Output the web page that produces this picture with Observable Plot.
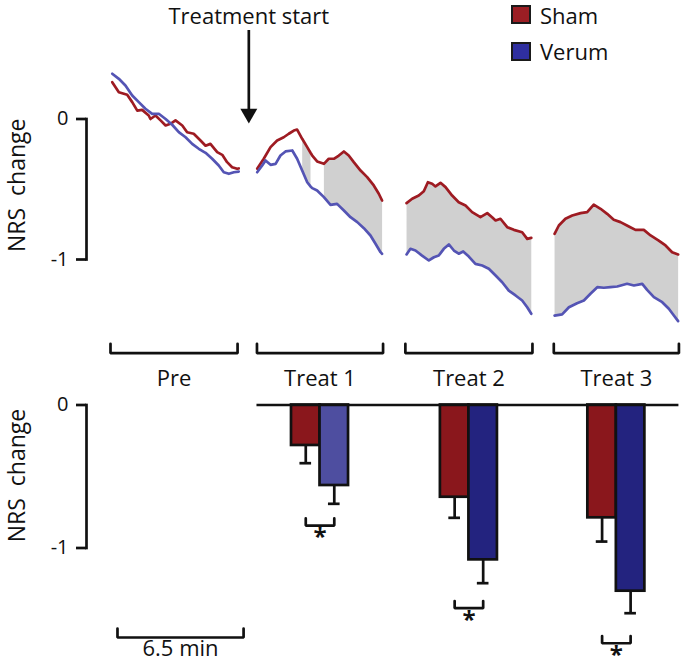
<!DOCTYPE html>
<html><head><meta charset="utf-8">
<script src="https://cdn.jsdelivr.net/npm/d3@7"></script>
<script src="https://cdn.jsdelivr.net/npm/@observablehq/plot@0.6"></script>
<style>
body{margin:0;background:#fff;font-family:"Open Sans",sans-serif;color:#111;}
#wrap{position:relative;width:685px;height:663px;overflow:hidden;background:#fff}
#wrap svg{display:block}
.sw{position:absolute;left:511px;width:16px;height:15px;border:2.5px solid #1a1a1a;}
.lt{position:absolute;left:540px;font-size:22px;line-height:30px;font-family:"Open Sans";color:#111;}
</style></head>
<body><div id="wrap"><div id="topPanel"></div><div id="bottomPanel"></div>
<div class="sw" style="top:5px;background:#9b1e24"></div><div class="lt" style="top:0px">Sham</div>
<div class="sw" style="top:42px;background:#2f2f9f"></div><div class="lt" style="top:36px">Verum</div>
</div>
<script>
// ---------- data ----------
const segNames = ["Pre", "Treat 1", "Treat 2", "Treat 3"];
const segStart = [0, 7.55, 15.2, 22.85];   // minutes
const segEnd   = [6.55, 14.05, 21.75, 29.3];
const treatmentStart = 7.13;

// time-course, [minute, NRS change]
const shamPre = [[0.09,0.262],[0.43,0.191],[0.86,0.172],[1.12,0.12],[1.38,0.06],[1.63,0.065],[1.97,0.025],[2.06,0.0],[2.32,0.025],[2.58,-0.01],[2.84,-0.046],[3.09,-0.034],[3.35,-0.01],[3.70,-0.046],[3.95,-0.094],[4.29,-0.105],[4.64,-0.153],[4.90,-0.19],[5.15,-0.177],[5.50,-0.236],[5.76,-0.255],[6.01,-0.307],[6.27,-0.343],[6.53,-0.354],[6.61,-0.352]];
const verumPre = [[0.09,0.322],[0.43,0.286],[0.77,0.238],[1.12,0.167],[1.46,0.12],[1.80,0.073],[2.15,0.037],[2.49,0.037],[2.84,0.0],[3.18,-0.041],[3.52,-0.094],[3.87,-0.13],[4.21,-0.177],[4.55,-0.212],[4.90,-0.241],[5.24,-0.283],[5.58,-0.331],[5.84,-0.379],[6.10,-0.39],[6.36,-0.379],[6.61,-0.374]];
const shamT1 = [[7.56,-0.354],[7.90,-0.283],[8.25,-0.20],[8.59,-0.153],[8.93,-0.13],[9.19,-0.105],[9.45,-0.082],[9.62,-0.075],[9.88,-0.141],[10.14,-0.20],[10.31,-0.24],[10.40,-0.26],[10.65,-0.302],[11.0,-0.319],[11.25,-0.283],[11.51,-0.283],[11.77,-0.26],[12.03,-0.231],[12.28,-0.26],[12.54,-0.307],[12.89,-0.367],[13.23,-0.414],[13.57,-0.473],[13.83,-0.532],[14.0,-0.58]];
const verumT1 = [[7.56,-0.379],[7.82,-0.331],[7.99,-0.295],[8.25,-0.326],[8.51,-0.319],[8.76,-0.26],[9.02,-0.231],[9.37,-0.224],[9.62,-0.283],[9.88,-0.367],[10.14,-0.45],[10.31,-0.48],[10.40,-0.492],[10.65,-0.509],[11.0,-0.556],[11.34,-0.611],[11.68,-0.604],[12.03,-0.651],[12.37,-0.699],[12.72,-0.734],[13.06,-0.777],[13.40,-0.829],[13.66,-0.888],[13.92,-0.948],[14.0,-0.96]];
const shamT2 = [[15.26,-0.599],[15.55,-0.568],[15.89,-0.545],[16.15,-0.514],[16.36,-0.45],[16.58,-0.461],[16.75,-0.48],[17.01,-0.454],[17.27,-0.485],[17.61,-0.545],[17.95,-0.592],[18.30,-0.616],[18.64,-0.663],[19.07,-0.699],[19.42,-0.67],[19.67,-0.699],[19.85,-0.722],[20.10,-0.71],[20.45,-0.77],[20.79,-0.789],[21.22,-0.806],[21.48,-0.853],[21.69,-0.846]];
const verumT2 = [[15.26,-0.964],[15.46,-0.924],[15.72,-0.936],[16.06,-0.972],[16.41,-1.007],[16.67,-0.984],[16.92,-0.972],[17.18,-0.924],[17.44,-0.893],[17.70,-0.936],[17.95,-0.959],[18.18,-0.943],[18.47,-0.979],[18.81,-1.031],[19.16,-1.043],[19.50,-1.066],[19.85,-1.114],[20.19,-1.162],[20.53,-1.221],[20.88,-1.256],[21.22,-1.292],[21.48,-1.34],[21.69,-1.386]];
const shamT3 = [[22.89,-0.817],[23.11,-0.758],[23.45,-0.71],[23.80,-0.687],[24.23,-0.67],[24.57,-0.663],[24.91,-0.609],[25.26,-0.639],[25.60,-0.675],[25.94,-0.717],[26.29,-0.734],[26.72,-0.765],[27.06,-0.789],[27.49,-0.789],[27.84,-0.829],[28.26,-0.865],[28.61,-0.9],[28.95,-0.948],[29.26,-0.964]];
const verumT3 = [[22.89,-1.399],[23.28,-1.391],[23.63,-1.34],[24.05,-1.311],[24.40,-1.292],[24.74,-1.244],[25.09,-1.197],[25.43,-1.201],[25.77,-1.197],[26.12,-1.192],[26.63,-1.173],[26.98,-1.185],[27.41,-1.173],[27.66,-1.216],[28.01,-1.268],[28.44,-1.304],[28.78,-1.351],[29.04,-1.399],[29.26,-1.439]];
// intervals with significant Sham-Verum difference (grey)
const sigIntervals = [[9.88,10.31],[11.0,14.0],[15.26,21.69],[22.89,29.26]];

// bars (mean change per treatment block) and SEM
const barGroups = ["Treat 1", "Treat 2", "Treat 3"];
const shamMean = [-0.283, -0.645, -0.789];
const shamErr  = [0.124, 0.144, 0.166];
const verumMean = [-0.563, -1.083, -1.302];
const verumErr  = [0.128, 0.163, 0.154];
const sigLevel = [-0.843, -1.421, -1.666];
const scaleBarStart = 0.36, scaleBarMinutes = 6.5;
const yTicks = [0, -1];

// ---------- styles ----------
const INK = "#111";
const SW = 2.7;
const shamLine = "#9e1b22", verumLine = "#5454b4";
const shamFill = "#8a171c", verumFills = ["#4e4ea0", "#23237f", "#23237f"];
const barW = 1.47, capHalf = 0.3;
const FONT = "Open Sans";

// ---------- derived tables ----------
const shamAll = [shamPre, shamT1, shamT2, shamT3];
const verumAll = [verumPre, verumT1, verumT2, verumT3];
const lineRows = [];
segNames.forEach((s, i) => {
  shamAll[i].forEach(([t, v]) => lineRows.push({series: "Sham", seg: s, t, v}));
  verumAll[i].forEach(([t, v]) => lineRows.push({series: "Verum", seg: s, t, v}));
});
const flatS = shamAll.flat(), flatV = verumAll.flat();
const polyRows = sigIntervals.flatMap(([a, b], k) => {
  const inI = ([t]) => t >= a - 1e-6 && t <= b + 1e-6;
  const s = flatS.filter(inI), v = flatV.filter(inI).reverse();
  return [...s, ...v].map(([t, val]) => ({k, t, v: val}));
});
const segs = segNames.map((name, i) => ({name, a: segStart[i], b: segEnd[i], mid: (segStart[i] + segEnd[i]) / 2}));
const bracketTop = -1.667, bracketTick = 0.067;
const bracketPts = segs.flatMap((d, i) => [
  {k: i, x: d.a, y: bracketTop + bracketTick}, {k: i, x: d.a, y: bracketTop},
  {k: i, x: d.b, y: bracketTop}, {k: i, x: d.b, y: bracketTop + bracketTick}]);

const X = {domain: [0, 6.5], range: [110, 236.1], axis: null};
const baseStyle = {fontFamily: FONT, fontSize: "22px", color: INK, background: "transparent", overflow: "visible"};

const yAxis = () => [
  Plot.frame({anchor: "left", strokeWidth: SW, stroke: INK}),
  Plot.axisY({ticks: yTicks, tickSize: 10, tickPadding: 8, tickFormat: d => String(d), fontSize: 20, strokeWidth: SW, label: null, fill: INK})
];
const yLabel = (dy) => Plot.text(["NRS\u00a0 change"], {frameAnchor: "left", textAnchor: "middle", lineAnchor: "middle", rotate: -90, dx: -69, dy, fontSize: 23, fill: INK});

const topChart = Plot.plot({
  width: 685, height: 395,
  marginLeft: 86, marginRight: 0, marginTop: 118.5, marginBottom: 136,
  x: X,
  y: {domain: [-1, 0], range: [259, 118.5], axis: null},
  style: baseStyle,
  marks: [
    Plot.line(polyRows, {x: "t", y: "v", z: "k", fill: "#d0d0d0", stroke: "none"}),
    Plot.line(lineRows.filter(d => d.series === "Sham"), {x: "t", y: "v", z: "seg", stroke: shamLine, strokeWidth: SW}),
    Plot.line(lineRows.filter(d => d.series === "Verum"), {x: "t", y: "v", z: "seg", stroke: verumLine, strokeWidth: SW}),
    ...yAxis(),
    yLabel(-4),
    Plot.line(bracketPts, {x: "x", y: "y", z: "k", stroke: INK, strokeWidth: SW, strokeLinejoin: "miter"}),
    Plot.text(segs, {x: "mid", y: -1.847, text: "name", fontSize: 22, fill: INK}),
    Plot.ruleX([treatmentStart], {y1: 0.63, y2: 0.06, stroke: INK, strokeWidth: SW}),
    Plot.dot([treatmentStart], {x: d => d, y: 0.038, symbol: "triangle", r: 6.3, rotate: 180, fill: INK, stroke: "none"}),
    Plot.text([treatmentStart], {x: d => d, y: 0.727, text: () => "Treatment start", fontSize: 22, fill: INK})
  ]
});
document.getElementById("topPanel").append(topChart);

// bottom panel
const barRows = barGroups.flatMap((g, i) => {
  const mid = segs[i + 1].mid;
  return [
    {g, series: "Sham", x1: mid - barW, x2: mid, c: mid - barW / 2, v: shamMean[i], e: shamErr[i], fill: shamFill},
    {g, series: "Verum", x1: mid, x2: mid + barW, c: mid + barW / 2, v: verumMean[i], e: verumErr[i], fill: verumFills[i]}
  ];
});
const sigTick = 0.05;
const sigPts = barGroups.flatMap((g, i) => {
  const mid = segs[i + 1].mid, a = mid - barW / 2, b = mid + barW / 2, L = sigLevel[i];
  return [{k: i, x: a, y: L + sigTick}, {k: i, x: a, y: L}, {k: i, x: b, y: L}, {k: i, x: b, y: L + sigTick}];
});
const sbLevel = -1.626, sbTick = 0.063;
const sbPts = [
  {x: scaleBarStart, y: sbLevel + sbTick}, {x: scaleBarStart, y: sbLevel},
  {x: scaleBarStart + scaleBarMinutes, y: sbLevel}, {x: scaleBarStart + scaleBarMinutes, y: sbLevel + sbTick}];

const bottomChart = Plot.plot({
  width: 685, height: 268,
  marginLeft: 86, marginRight: 0, marginTop: 9.5, marginBottom: 115.5,
  x: X,
  y: {domain: [-1, 0], range: [152.5, 9.5], axis: null},
  style: baseStyle,
  marks: [
    Plot.ruleX(barRows, {x: "c", y1: "v", y2: d => d.v - d.e, stroke: INK, strokeWidth: SW}),
    Plot.ruleY(barRows, {x1: d => d.c - capHalf, x2: d => d.c + capHalf, y: d => d.v - d.e, stroke: INK, strokeWidth: SW}),
    Plot.rect(barRows, {x1: "x1", x2: "x2", y1: 0, y2: "v", fill: "fill", stroke: INK, strokeWidth: SW}),
    Plot.ruleY([0], {x1: segStart[1], x2: segEnd[3], stroke: INK, strokeWidth: SW}),
    Plot.line(sigPts, {x: "x", y: "y", z: "k", stroke: INK, strokeWidth: SW, strokeLinejoin: "miter"}),
    Plot.text(barGroups, {x: (g, i) => segs[i + 1].mid, y: (g, i) => sigLevel[i], dy: 12, text: () => "*", fontSize: 24, fontWeight: "bold", fill: INK}),
    ...yAxis(),
    yLabel(-1),
    Plot.line(sbPts, {x: "x", y: "y", stroke: INK, strokeWidth: SW, strokeLinejoin: "miter"}),
    Plot.text([scaleBarMinutes], {x: scaleBarStart + scaleBarMinutes / 2, y: -1.703, text: d => `${d} min`, fontSize: 22, fill: INK})
  ]
});
document.getElementById("bottomPanel").append(bottomChart);
</script>
</body></html>
